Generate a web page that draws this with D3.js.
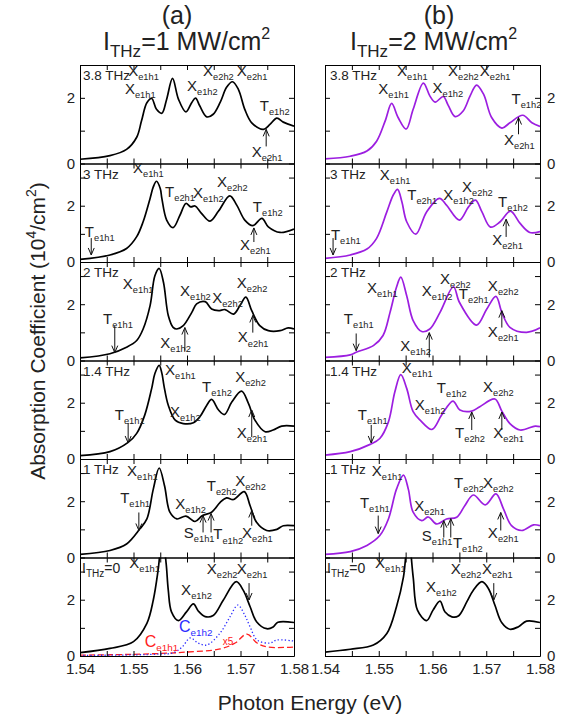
<!DOCTYPE html>
<html>
<head>
<meta charset="utf-8">
<script src="https://cdn.jsdelivr.net/npm/d3@7"></script>
<style>
  body { margin: 0; background: #fff; }
  text { font-family: "Liberation Sans", Arial, Helvetica, sans-serif; }
</style>
</head>
<body>
<svg id="chart" width="567" height="721"></svg>
<script>
// ---------- axis values ----------
const energyDomain = [1.54, 1.58];
const energyLabels = [1.54, 1.55, 1.56, 1.57, 1.58];
const energyTicks = [1.54, 1.545, 1.55, 1.555, 1.56, 1.565, 1.57, 1.575, 1.58];
const absorptionTicks = [0, 1, 2, 3];
const absorptionLabels = [0, 2];
const absorptionMax = [3, 3.5, 3.5, 3.5, 3.5, 3.5];
const fieldLabels = ["3.8 THz", "3 THz", "2 THz", "1.4 THz", "1 THz", "I=0"];
const columnTitles = ["(a)", "(b)"];
const intensityLabels = ["=1 MW/cm", "=2 MW/cm"];

// ---------- spectra, column (a): I_THz = 1 MW/cm^2 ----------  [energy (eV), absorption (10^4/cm^2)]
const specA38 = [[1.5400,0.13],[1.5456,0.24],[1.5487,0.43],[1.5506,0.80],[1.5515,1.30],[1.5525,1.85],[1.5534,1.98],[1.5543,1.65],[1.5553,1.53],[1.5562,1.96],[1.5573,2.59],[1.5584,1.96],[1.5598,1.57],[1.5609,1.86],[1.5616,1.99],[1.5624,1.75],[1.5637,1.42],[1.5649,1.50],[1.5662,1.86],[1.5674,2.32],[1.5685,2.49],[1.5696,2.26],[1.5708,1.65],[1.5721,1.24],[1.5743,1.04],[1.5755,1.19],[1.5768,1.38],[1.5780,1.26],[1.5800,1.14]];
const specA3 = [[1.5400,0.09],[1.5456,0.25],[1.5487,0.48],[1.5506,0.90],[1.5518,1.43],[1.5531,2.26],[1.5537,2.67],[1.5543,2.87],[1.5550,2.61],[1.5553,2.26],[1.5562,1.49],[1.5574,1.22],[1.5587,1.67],[1.5598,2.08],[1.5607,1.96],[1.5615,1.99],[1.5627,1.73],[1.5643,1.45],[1.5659,1.81],[1.5680,2.35],[1.5693,2.02],[1.5708,1.49],[1.5723,1.29],[1.5740,1.55],[1.5752,1.25],[1.5774,1.05],[1.5800,1.17]];
const specA2 = [[1.5400,0.09],[1.5456,0.24],[1.5487,0.47],[1.5506,0.71],[1.5518,1.12],[1.5531,1.95],[1.5540,3.01],[1.5548,3.27],[1.5556,2.78],[1.5565,1.60],[1.5574,1.18],[1.5581,1.12],[1.5593,1.24],[1.5609,1.71],[1.5618,2.01],[1.5634,2.09],[1.5646,1.83],[1.5659,1.77],[1.5671,1.81],[1.5687,1.65],[1.5699,1.95],[1.5710,2.25],[1.5721,1.77],[1.5736,1.24],[1.5752,1.06],[1.5774,1.06],[1.5789,1.16],[1.5800,1.12]];
const specA14 = [[1.5400,0.12],[1.5456,0.26],[1.5490,0.59],[1.5506,0.91],[1.5521,1.56],[1.5534,2.51],[1.5540,3.04],[1.5548,3.33],[1.5553,3.05],[1.5557,2.60],[1.5565,1.91],[1.5578,1.38],[1.5593,1.26],[1.5612,1.29],[1.5624,1.50],[1.5637,1.91],[1.5646,2.12],[1.5659,1.74],[1.5670,1.58],[1.5684,2.03],[1.5702,2.41],[1.5715,1.97],[1.5727,1.38],[1.5746,0.97],[1.5761,1.03],[1.5777,1.17],[1.5800,1.17]];
const specA1 = [[1.5400,0.11],[1.5456,0.25],[1.5487,0.48],[1.5512,1.02],[1.5525,1.37],[1.5537,2.43],[1.5548,3.18],[1.5558,2.55],[1.5568,1.61],[1.5581,1.37],[1.5598,1.47],[1.5615,1.28],[1.5629,1.49],[1.5646,1.61],[1.5662,1.96],[1.5674,2.12],[1.5687,2.06],[1.5707,2.34],[1.5718,1.84],[1.5730,1.25],[1.5749,0.96],[1.5768,1.00],[1.5780,1.13],[1.5800,1.13]];
const specA0 = [[1.5400,0.12],[1.5456,0.27],[1.5500,0.51],[1.5525,1.16],[1.5537,1.99],[1.5546,3.05],[1.5554,4.30],[1.5561,3.29],[1.5565,2.34],[1.5571,1.57],[1.5584,1.26],[1.5599,1.57],[1.5612,1.85],[1.5621,1.60],[1.5634,1.40],[1.5649,1.44],[1.5668,1.99],[1.5692,2.64],[1.5705,2.34],[1.5718,1.75],[1.5730,1.22],[1.5749,0.97],[1.5761,1.03],[1.5770,1.20],[1.5800,1.19]];
// exciton components at I_THz = 0
const compE1h2 = [[1.5400,0.02],[1.5500,0.04],[1.5550,0.07],[1.5574,0.11],[1.5591,0.32],[1.5606,0.64],[1.5621,0.46],[1.5637,0.39],[1.5662,0.82],[1.5680,1.38],[1.5695,1.81],[1.5708,1.45],[1.5718,1.03],[1.5731,0.57],[1.5755,0.46],[1.5768,0.57],[1.5800,0.53]];
const compE1h1x5 = [[1.5400,0.03],[1.5500,0.06],[1.5562,0.10],[1.5600,0.14],[1.5662,0.25],[1.5690,0.46],[1.5712,0.78],[1.5731,0.46],[1.5750,0.32],[1.5800,0.32]];

// ---------- spectra, column (b): I_THz = 2 MW/cm^2 ----------
const specB38 = [[1.5400,0.14],[1.5447,0.22],[1.5478,0.38],[1.5496,0.68],[1.5512,1.30],[1.5524,1.83],[1.5536,1.40],[1.5551,1.05],[1.5564,1.65],[1.5583,2.45],[1.5595,2.06],[1.5605,1.87],[1.5620,2.04],[1.5629,1.78],[1.5642,1.43],[1.5657,1.60],[1.5670,2.06],[1.5682,2.39],[1.5695,2.11],[1.5710,1.40],[1.5729,1.08],[1.5744,1.24],[1.5768,1.47],[1.5785,1.24],[1.5800,1.13]];
const specB3 = [[1.5400,0.13],[1.5447,0.25],[1.5478,0.46],[1.5496,0.84],[1.5515,1.78],[1.5527,2.38],[1.5535,2.58],[1.5543,2.14],[1.5552,1.43],[1.5569,0.99],[1.5589,1.78],[1.5613,2.26],[1.5626,2.02],[1.5650,1.49],[1.5667,1.96],[1.5680,2.20],[1.5692,1.78],[1.5708,1.24],[1.5726,1.43],[1.5745,1.81],[1.5763,1.37],[1.5781,1.05],[1.5800,1.08]];
const specB2 = [[1.5400,0.11],[1.5447,0.20],[1.5459,0.30],[1.5490,0.53],[1.5508,0.89],[1.5521,1.71],[1.5533,2.60],[1.5541,2.96],[1.5552,2.30],[1.5564,1.42],[1.5580,1.03],[1.5595,1.12],[1.5614,1.71],[1.5639,2.62],[1.5650,2.07],[1.5682,1.26],[1.5701,1.83],[1.5718,2.28],[1.5729,1.71],[1.5744,1.18],[1.5775,1.00],[1.5800,1.16]];
const specB14 = [[1.5400,0.14],[1.5447,0.26],[1.5484,0.52],[1.5502,0.73],[1.5518,1.32],[1.5530,2.39],[1.5541,3.00],[1.5552,2.51],[1.5564,1.68],[1.5577,1.38],[1.5599,1.05],[1.5617,1.56],[1.5638,2.06],[1.5651,1.74],[1.5673,1.70],[1.5688,1.86],[1.5716,2.13],[1.5729,1.70],[1.5744,1.26],[1.5763,1.03],[1.5791,1.17],[1.5800,1.15]];
const specB1 = [[1.5400,0.11],[1.5447,0.21],[1.5478,0.43],[1.5502,0.78],[1.5518,1.37],[1.5533,2.43],[1.5546,2.93],[1.5555,2.43],[1.5564,1.61],[1.5580,1.31],[1.5592,1.44],[1.5608,1.19],[1.5626,1.37],[1.5645,1.43],[1.5660,1.84],[1.5676,2.22],[1.5698,1.87],[1.5718,2.26],[1.5732,1.73],[1.5747,1.13],[1.5766,0.96],[1.5788,1.16],[1.5800,1.13]];
const specB0 = [[1.5400,0.14],[1.5447,0.24],[1.5490,0.39],[1.5515,0.80],[1.5533,1.75],[1.5546,2.81],[1.5555,4.30],[1.5564,2.81],[1.5572,1.63],[1.5589,1.26],[1.5601,1.63],[1.5614,1.95],[1.5623,1.57],[1.5636,1.39],[1.5648,1.42],[1.5664,1.93],[1.5676,2.34],[1.5692,2.64],[1.5704,2.40],[1.5716,1.81],[1.5729,1.18],[1.5744,0.95],[1.5760,1.04],[1.5775,1.24],[1.5800,1.19]];

// ---------- peak assignments: [letter, subscript, energy, absorption] ----------
const labelsA = [
  [["X","e1h1",1.5490,2.66],["X","e1h1",1.5484,2.11],["X","e1h2",1.5600,2.20],["X","e2h2",1.5630,2.66],["X","e2h1",1.5693,2.66],["T","e1h2",1.5736,1.59],["X","e2h1",1.5721,0.21]],
  [["X","e1h1",1.5499,3.16],["T","e2h1",1.5559,2.30],["X","e1h2",1.5611,2.27],["X","e2h2",1.5656,2.66],["T","e1h2",1.5723,1.77],["X","e2h1",1.5699,0.43],["T","e1h1",1.5409,0.89]],
  [["X","e1h1",1.5480,2.55],["X","e1h2",1.5587,2.30],["X","e2h2",1.5647,2.06],["X","e2h2",1.5693,2.59],["X","e2h1",1.5695,0.64],["T","e1h1",1.5443,1.31],["X","e1h2",1.5550,0.43]],
  [["X","e1h1",1.5559,2.98],["X","e1h2",1.5568,1.49],["T","e1h2",1.5628,2.38],["X","e2h2",1.5690,2.73],["X","e2h1",1.5693,0.74],["T","e1h1",1.5465,1.38]],
  [["X","e1h1",1.5488,2.91],["T","e1h1",1.5475,1.95],["X","e1h2",1.5578,1.74],["T","e2h2",1.5637,2.38],["X","e2h2",1.5690,2.55],["X","e2h1",1.5703,0.71],["S","e1h1",1.5594,0.71],["T","e1h2",1.5649,0.64]],
  [["X","e1h1",1.5492,3.12],["X","e1h2",1.5589,2.16],["X","e2h2",1.5637,2.91],["X","e2h1",1.5693,2.91]]
];
const labelsB = [
  [["X","e1h1",1.5534,2.66],["X","e1h1",1.5499,2.11],["X","e1h2",1.5600,2.15],["X","e2h2",1.5629,2.67],["X","e2h1",1.5688,2.67],["T","e1h2",1.5747,1.80],["X","e2h1",1.5733,0.56]],
  [["X","e1h1",1.5502,2.91],["T","e2h1",1.5553,2.20],["X","e1h2",1.5620,2.20],["X","e2h2",1.5655,2.48],["T","e1h2",1.5722,1.95],["X","e2h1",1.5711,0.60],["T","e1h1",1.5411,0.78]],
  [["X","e1h1",1.5478,2.41],["X","e1h2",1.5580,2.30],["X","e2h2",1.5614,2.73],["T","e2h1",1.5649,2.20],["X","e2h2",1.5703,2.48],["X","e2h1",1.5703,0.82],["T","e1h1",1.5435,1.31],["X","e1h2",1.5540,0.35]],
  [["X","e1h1",1.5543,3.05],["X","e1h2",1.5567,1.74],["T","e1h2",1.5608,2.34],["X","e2h2",1.5694,2.38],["T","e2h2",1.5642,0.74],["X","e2h1",1.5713,0.74],["T","e1h1",1.5461,1.38]],
  [["X","e1h1",1.5487,2.91],["T","e1h1",1.5465,1.77],["X","e2h1",1.5566,1.67],["T","e2h2",1.5640,2.48],["X","e2h2",1.5694,2.48],["X","e2h1",1.5703,0.71],["S","e1h1",1.5580,0.60],["T","e1h2",1.5638,0.35]],
  [["X","e1h1",1.5493,3.12],["X","e1h2",1.5588,2.27],["X","e2h2",1.5634,2.91],["X","e2h1",1.5692,2.91]]
];
// arrows: [energy, from absorption, to absorption (head)]
const arrowsA = [
  [[1.5748,0.52,1.04]],
  [[1.5421,0.85,0.25],[1.5725,0.71,1.21]],
  [[1.5723,0.99,1.60],[1.5465,1.24,0.28],[1.5596,0.35,1.17]],
  [[1.5721,0.78,1.74],[1.5490,1.28,0.57]],
  [[1.5510,1.60,0.96],[1.5721,1.13,1.67],[1.5630,0.89,1.49],[1.5645,0.89,1.56]],
  [[1.5716,2.59,1.99]]
];
const arrowsB = [
  [[1.5760,0.89,1.40]],
  [[1.5415,0.85,0.25],[1.5737,0.89,1.52]],
  [[1.5729,1.17,1.77],[1.5458,0.96,0.35],[1.5594,0.11,0.99]],
  [[1.5673,1.03,1.67],[1.5729,1.03,1.67],[1.5486,1.21,0.57]],
  [[1.5499,1.49,0.85],[1.5727,0.96,1.60],[1.5621,0.71,1.31],[1.5634,0.71,1.38]],
  [[1.5714,2.59,1.99]]
];
// component labels in the I_THz = 0 panel: [letter, subscript, energy, absorption, colour]
const componentLabels = [["C","e1h2",1.5585,0.85,"#2b2bff"],["C","e1h1",1.5521,0.32,"#ff2020"]];
const scaleNote = ["x5", 1.5667, 0.39];

const specsA = [specA38, specA3, specA2, specA14, specA1, specA0];
const specsB = [specB38, specB3, specB2, specB14, specB1, specB0];

// ---------- layout ----------
const svg = d3.select("#chart");
const textColor = "#222";
const purple = "#9c1ee0";
const columns = [
  { left: 80, right: 294, specs: specsA, labels: labelsA, arrows: arrowsA, axisSide: "left" },
  { left: 325, right: 540, specs: specsB, labels: labelsB, arrows: arrowsB, axisSide: "right" }
];
const plotTop = 65, plotBottom = 656;
const rowH = (plotBottom - plotTop) / 6;

function addLabel(g, x, y, main, sub, size, color) {
  const t = g.append("text").attr("x", x).attr("y", y)
    .attr("font-size", size).attr("fill", color || textColor);
  t.append("tspan").text(main);
  t.append("tspan").attr("font-size", size * 0.62).attr("dy", size * 0.27).text(sub);
  return t;
}

columns.forEach((col, ci) => {
  const x = d3.scaleLinear().domain(energyDomain).range([col.left, col.right]);
  for (let r = 0; r < 6; r++) {
    const top = plotTop + r * rowH, bottom = top + rowH;
    const y = d3.scaleLinear().domain([0, absorptionMax[r]]).range([bottom, top]);
    const g = svg.append("g");
    const cid = "clip" + ci + "_" + r;
    svg.append("clipPath").attr("id", cid).append("rect")
      .attr("x", col.left).attr("y", top).attr("width", col.right - col.left).attr("height", rowH);

    const line = d3.line().x(d => x(d[0])).y(d => y(d[1])).curve(d3.curveCatmullRom.alpha(0.5));
    const lineColor = (ci === 1 && r < 5) ? purple : "#000";

    if (ci === 0 && r === 5) {
      g.append("path").datum(compE1h1x5).attr("d", line).attr("clip-path", `url(#${cid})`)
        .attr("fill", "none").attr("stroke", "#ff2020").attr("stroke-width", 1.3).attr("stroke-dasharray", "6,3");
      g.append("path").datum(compE1h2).attr("d", line).attr("clip-path", `url(#${cid})`)
        .attr("fill", "none").attr("stroke", "#2b2bff").attr("stroke-width", 1.3).attr("stroke-dasharray", "1.3,2.2");
    }
    g.append("path").datum(col.specs[r]).attr("d", line).attr("clip-path", `url(#${cid})`)
      .attr("fill", "none").attr("stroke", lineColor).attr("stroke-width", 1.7);

    // frame with inward ticks
    const axB = d3.axisBottom(x).tickValues(energyTicks).tickSize(-5).tickSizeOuter(0).tickPadding(7)
      .tickFormat(r === 5 ? (d => energyLabels.some(v => Math.abs(v - d) < 1e-9) ? d3.format(".2f")(d) : "") : () => "");
    const axT = d3.axisTop(x).tickValues(energyTicks).tickSize(-5).tickSizeOuter(0).tickFormat(() => "");
    const fmtY = d => absorptionLabels.includes(d) ? d : "";
    const yTicks = absorptionTicks.filter(v => v <= absorptionMax[r]);
    const axL = d3.axisLeft(y).tickValues(yTicks).tickSize(-5).tickSizeOuter(0).tickPadding(5)
      .tickFormat(col.axisSide === "left" ? fmtY : () => "");
    const axR = d3.axisRight(y).tickValues(yTicks).tickSize(-5).tickSizeOuter(0).tickPadding(7)
      .tickFormat(col.axisSide === "right" ? fmtY : () => "");
    [[axB, `translate(0,${bottom})`], [axT, `translate(0,${top})`], [axL, `translate(${col.left},0)`], [axR, `translate(${col.right},0)`]]
      .forEach(([ax, tr]) => {
        const a = g.append("g").attr("transform", tr).call(ax);
        a.selectAll("path.domain").attr("stroke", "#000").attr("stroke-width", 1);
        a.selectAll(".tick line").attr("stroke", "#000").attr("stroke-width", 1);
        a.selectAll(".tick text").attr("font-size", 15).attr("fill", textColor)
          .attr("font-family", "Liberation Sans, Arial, sans-serif");
      });

    // field label
    if (r < 5) {
      g.append("text").attr("x", col.left + (ci === 0 ? 3 : 5)).attr("y", top + 15)
        .attr("font-size", 13.5).attr("fill", textColor).text(fieldLabels[r]);
    } else {
      const t = g.append("text").attr("x", col.left + 2).attr("y", top + 15)
        .attr("font-size", 14).attr("fill", textColor);
      t.append("tspan").text("I");
      t.append("tspan").attr("font-size", 10).attr("dy", 4).text("THz");
      t.append("tspan").attr("dy", -4).text("=0");
    }

    // peak assignments
    col.labels[r].forEach(([m, s, e, v]) => addLabel(g, x(e), y(v), m, s, 15));
    // arrows
    col.arrows[r].forEach(([e, v0, v1]) => {
      const xa = x(e), y0 = y(v0), y1 = y(v1);
      const dir = y1 < y0 ? 1 : -1;
      g.append("line").attr("x1", xa).attr("x2", xa).attr("y1", y0).attr("y2", y1)
        .attr("stroke", "#111").attr("stroke-width", 1);
      g.append("path").attr("d", `M${xa - 3},${y1 + dir * 7}L${xa},${y1}L${xa + 3},${y1 + dir * 7}`)
        .attr("fill", "none").attr("stroke", "#111").attr("stroke-width", 1);
    });
    if (ci === 0 && r === 5) {
      componentLabels.forEach(([m, s, e, v, c]) => addLabel(g, x(e), y(v), m, s, 16, c));
      g.append("text").attr("x", x(scaleNote[1])).attr("y", y(scaleNote[2]))
        .attr("font-size", 10).attr("fill", "#ff2020").text(scaleNote[0]);
    }
  }
});

// column titles
const titleX = [177, 439];
const intensityX = [103, 350];
columns.forEach((col, ci) => {
  svg.append("text").attr("x", titleX[ci]).attr("y", 24).attr("text-anchor", "middle")
    .attr("font-size", 25).attr("fill", textColor).text(columnTitles[ci]);
  const t = svg.append("text").attr("x", intensityX[ci]).attr("y", 50)
    .attr("font-size", 25).attr("fill", textColor);
  t.append("tspan").text("I");
  t.append("tspan").attr("font-size", 17).attr("dy", 7).text("THz");
  t.append("tspan").attr("dy", -7).text(intensityLabels[ci]);
  t.append("tspan").attr("font-size", 16).attr("dy", -11).text("2");
});

// axis titles
svg.append("text").attr("x", 310).attr("y", 710).attr("text-anchor", "middle")
  .attr("font-size", 21).attr("fill", textColor).text("Photon Energy (eV)");
const yt = svg.append("text").attr("transform", "translate(45,331) rotate(-90)")
  .attr("text-anchor", "middle").attr("font-size", 21).attr("fill", textColor);
yt.append("tspan").text("Absorption Coefficient (10");
yt.append("tspan").attr("font-size", 14).attr("dy", -9).text("4");
yt.append("tspan").attr("dy", 9).text("/cm");
yt.append("tspan").attr("font-size", 14).attr("dy", -9).text("2");
yt.append("tspan").attr("dy", 9).text(")");
</script>
</body>
</html>
